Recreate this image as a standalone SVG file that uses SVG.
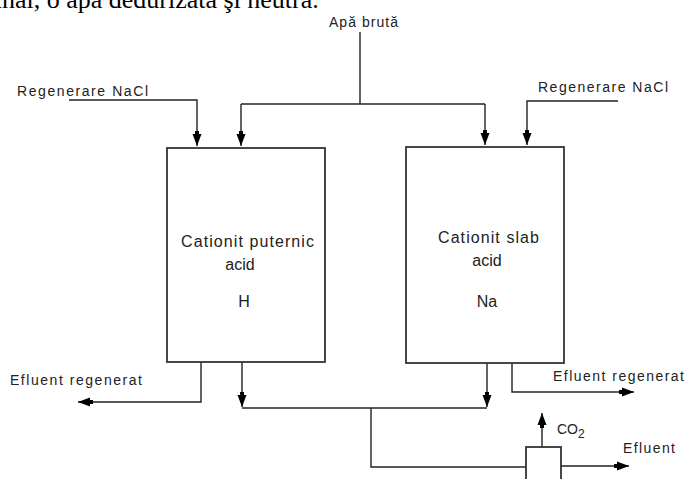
<svg xmlns="http://www.w3.org/2000/svg" width="685" height="479" viewBox="0 0 685 479">
<style>
  .lbl { font-family: "Liberation Sans", Arial, sans-serif; font-size: 14px; fill: #222; }
  .box-t { font-family: "Liberation Sans", Arial, sans-serif; font-size: 16px; fill: #222; }
  .box { fill: #fff; stroke: #333; stroke-width: 1.8; }
  .ln { fill: none; stroke: #222; stroke-width: 1.4; }
  .arr { marker-end: url(#ah); }
</style>
<defs>
  <marker id="ah" markerUnits="userSpaceOnUse" markerWidth="14" markerHeight="12" refX="12" refY="6" orient="auto" overflow="visible">
    <path d="M0,1.5 L12,6 L0,10.5 z" fill="#000"/>
    <rect x="-3" y="4" width="4" height="4" fill="#000"/>
  </marker>
</defs>
<rect width="685" height="479" fill="#fff"/>

<text x="-14" y="8" font-family="Liberation Serif, 'Times New Roman', serif" font-size="26" fill="#000">final, o apă dedurizată şi neutră.</text>

<g id="connectors">
  <path class="ln" d="M360,32 V104"/>
  <path class="ln" d="M241,104 H485"/>
  <path class="ln arr" d="M241,104 V146"/>
  <path class="ln arr" d="M485,104 V145"/>
  <path class="ln arr" d="M69,100 H197 V146"/>
  <path class="ln arr" d="M618,101 H527 V145"/>
  <path class="ln arr" d="M201,362 V402 H78"/>
  <path class="ln arr" d="M242,362 V407"/>
  <path class="ln arr" d="M487,363 V407"/>
  <path class="ln" d="M242,408 H487"/>
  <path class="ln arr" d="M512,363 V392 H634"/>
  <path class="ln" d="M371,408 V467 H526"/>
  <path class="ln arr" d="M542,447 V413"/>
  <path class="ln arr" d="M561,466 H629"/>
</g>

<g id="node-cationit-puternic">
  <rect class="box" x="167" y="148" width="158" height="214"/>
  <text class="box-t" x="181" y="247" textLength="133" lengthAdjust="spacing">Cationit puternic</text>
  <text class="box-t" x="240" y="270" text-anchor="middle">acid</text>
  <text class="box-t" x="244" y="307" text-anchor="middle">H</text>
</g>

<g id="node-cationit-slab">
  <rect class="box" x="406" y="147" width="158" height="216"/>
  <text class="box-t" x="438" y="243" textLength="101" lengthAdjust="spacing">Cationit slab</text>
  <text class="box-t" x="487" y="266" text-anchor="middle">acid</text>
  <text class="box-t" x="487" y="307" text-anchor="middle">Na</text>
</g>

<g id="node-degazor">
  <rect class="box" x="526" y="447" width="35" height="45"/>
</g>

<g id="labels">
  <text class="lbl" x="329" y="27" textLength="69" lengthAdjust="spacing">Apă brută</text>
  <text class="lbl" x="17" y="96" textLength="131" lengthAdjust="spacing">Regenerare NaCl</text>
  <text class="lbl" x="538" y="92" textLength="130" lengthAdjust="spacing">Regenerare NaCl</text>
  <text class="lbl" x="10" y="385" textLength="132" lengthAdjust="spacing">Efluent  regenerat</text>
  <text class="lbl" x="553" y="381" textLength="131" lengthAdjust="spacing">Efluent  regenerat</text>
  <text class="lbl" x="557" y="434">CO<tspan font-size="12" dy="4">2</tspan></text>
  <text class="lbl" x="623" y="453" textLength="52" lengthAdjust="spacing">Efluent</text>
</g>
</svg>
